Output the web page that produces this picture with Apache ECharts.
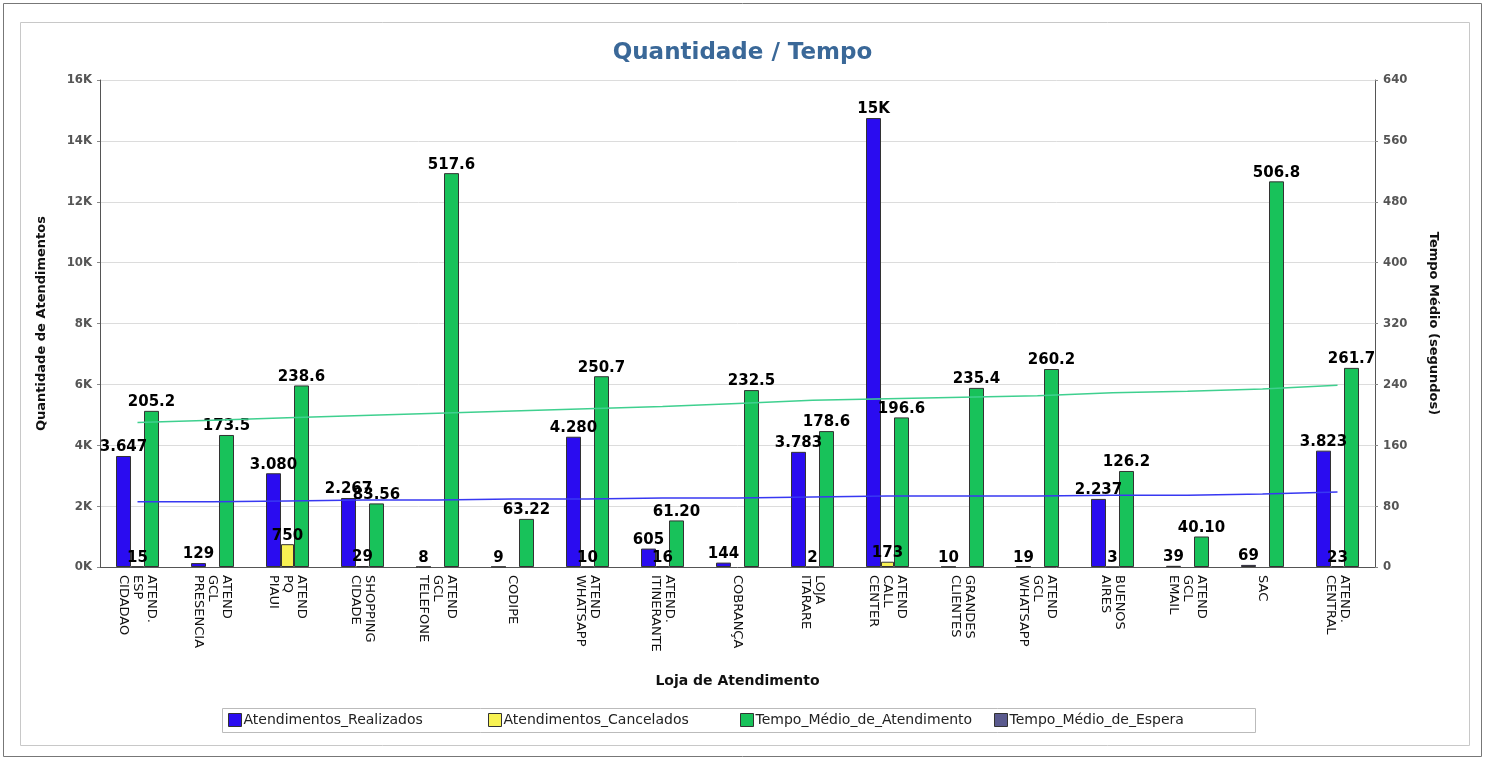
<!DOCTYPE html>
<html>
<head>
<meta charset="utf-8" />
<title>Quantidade / Tempo</title>
<script src="https://cdn.jsdelivr.net/npm/echarts@6/dist/echarts.min.js"></script>
<style>
  html, body { margin: 0; padding: 0; background: #fff; }
  #chart { width: 1485px; height: 760px; }
</style>
</head>
<body>
<div id="chart"></div>
<script>
// lojas (eixo x)
var lojas = [
  'ATEND.\nESP\nCIDADAO', 'ATEND\nGCL\nPRESENCIA', 'ATEND\nPQ\nPIAUI', 'SHOPPING\nCIDADE',
  'ATEND\nGCL\nTELEFONE', 'CODIPE', 'ATEND\nWHATSAPP', 'ATEND.\nITINERANTE', 'COBRANÇA',
  'LOJA\nITARARE', 'ATEND\nCALL\nCENTER', 'GRANDES\nCLIENTES', 'ATEND\nGCL\nWHATSAPP',
  'BUENOS\nAIRES', 'ATEND\nGCL\nEMAIL', 'SAC', 'ATEND.\nCENTRAL'
];
var realizados = [3647, 129, 3080, 2267, 8, 9, 4280, 605, 144, 3783, 14750, 10, 19, 2237, 39, 69, 3823];
var cancelados = [15, null, 750, 29, null, null, 10, 16, null, 2, 173, null, null, 3, null, null, 23];
var tempoAtend = [205.2, 173.5, 238.6, 83.56, 517.6, 63.22, 250.7, 61.20, 232.5, 178.6, 196.6, 235.4, 260.2, 126.2, 40.10, 506.8, 261.7];
var tempoEspera = [];
// linhas de tendencia
var tendQtd = [2140, 2140, 2170, 2200, 2200, 2230, 2230, 2270, 2270, 2300, 2330, 2330, 2330, 2360, 2360, 2400, 2460];
var tendTempo = [190, 193, 196, 199, 202, 205, 208, 211, 215, 219, 221, 223, 225, 229, 231, 234, 239];
var legendas = ['Atendimentos_Realizados', 'Atendimentos_Cancelados', 'Tempo_Médio_de_Atendimento', 'Tempo_Médio_de_Espera'];
var legendaX = [228, 488, 740, 994];

function fmtQtd(v) {
  if (v >= 10000) return Math.round(v / 1000) + 'K';
  return String(v).replace(/\B(?=(\d{3})+(?!\d))/g, '.');
}

var lbl = { show: true, position: 'top', distance: 1, color: '#000', fontWeight: 'bold',
  fontSize: 15, fontFamily: 'DejaVu Sans' };
var borda = { borderColor: '#333', borderWidth: 1 };

var chart = echarts.init(document.getElementById('chart'));
var option = {
  backgroundColor: '#fff',
  animation: false,
  graphic: [
    { type: 'rect', shape: { x: 3.5, y: 3.5, width: 1478, height: 753 }, style: { fill: 'none', stroke: '#777', lineWidth: 1 } },
    { type: 'rect', shape: { x: 20.5, y: 22.5, width: 1449, height: 723 }, style: { fill: 'none', stroke: '#c8c8c8', lineWidth: 1 } },
    { type: 'rect', shape: { x: 222.5, y: 708.5, width: 1033, height: 24 }, style: { fill: 'none', stroke: '#bbb', lineWidth: 1 } }
  ],
  title: {
    text: 'Quantidade / Tempo',
    left: 'center', top: 37,
    textStyle: { color: '#3a6898', fontSize: 23, fontWeight: 'bold', fontFamily: 'DejaVu Sans' }
  },
  legend: legendas.map(function (n, i) {
    return {
      left: legendaX[i], top: 713, data: [n],
      icon: 'rect', itemWidth: 13, itemHeight: 13, itemGap: 0,
      itemStyle: { borderColor: '#333', borderWidth: 1 },
      padding: 0,
      textStyle: { color: '#222', fontSize: 14, fontFamily: 'DejaVu Sans', padding: [0, 0, 0, -3] }
    };
  }),
  grid: { left: 100, right: 110, top: 80, bottom: 193 },
  xAxis: {
    type: 'category', data: lojas,
    name: 'Loja de Atendimento', nameLocation: 'middle', nameGap: 107,
    nameTextStyle: { fontWeight: 'bold', fontSize: 14, color: '#111', fontFamily: 'DejaVu Sans' },
    axisLine: { lineStyle: { color: '#555' } },
    axisTick: { show: false },
    axisLabel: { rotate: -90, interval: 0, color: '#111', fontSize: 13, lineHeight: 14,
      fontFamily: 'DejaVu Sans', margin: 8 }
  },
  yAxis: [
    {
      type: 'value', min: 0, max: 16000, interval: 2000,
      name: 'Quantidade de Atendimentos', nameLocation: 'middle', nameGap: 52,
      nameTextStyle: { fontWeight: 'bold', fontSize: 13, color: '#111', fontFamily: 'DejaVu Sans' },
      axisLine: { show: true, lineStyle: { color: '#555' } },
      axisTick: { show: true, length: 3, lineStyle: { color: '#888' } },
      axisLabel: { color: '#555', fontSize: 13, fontWeight: 'bold', fontFamily: 'DejaVu Sans Condensed, DejaVu Sans',
        formatter: function (v) { return (v / 1000) + 'K'; } },
      splitLine: { lineStyle: { color: '#dcdcdc' } }
    },
    {
      type: 'value', min: 0, max: 640, interval: 80, position: 'right',
      name: 'Tempo Médio (segundos)', nameLocation: 'middle', nameGap: 52, nameRotate: -90,
      nameTextStyle: { fontWeight: 'bold', fontSize: 13, color: '#111', fontFamily: 'DejaVu Sans' },
      axisLine: { show: true, lineStyle: { color: '#555' } },
      axisTick: { show: true, length: 3, lineStyle: { color: '#888' } },
      axisLabel: { color: '#555', fontSize: 13, fontWeight: 'bold', fontFamily: 'DejaVu Sans Condensed, DejaVu Sans' },
      splitLine: { show: false }
    }
  ],
  series: [
    {
      name: 'Atendimentos_Realizados', type: 'bar', yAxisIndex: 0, data: realizados,
      barWidth: 15, barGap: '0%',
      itemStyle: Object.assign({ color: '#2a0cf0' }, borda),
      label: Object.assign({ formatter: function (p) { return fmtQtd(p.value); } }, lbl)
    },
    {
      name: 'Atendimentos_Cancelados', type: 'bar', yAxisIndex: 0, data: cancelados,
      barWidth: 13, barGap: '0%',
      itemStyle: Object.assign({ color: '#f8f252' }, borda),
      label: Object.assign({ formatter: function (p) { return fmtQtd(p.value); } }, lbl)
    },
    {
      name: 'Tempo_Médio_de_Atendimento', type: 'bar', yAxisIndex: 1, data: tempoAtend,
      barWidth: 15, barGap: '0%',
      itemStyle: Object.assign({ color: '#18c25a' }, borda),
      label: Object.assign({ formatter: function (p) { return p.value.toPrecision(4); } }, lbl)
    },
    {
      name: 'Tempo_Médio_de_Espera', type: 'line', yAxisIndex: 1, data: tempoEspera,
      itemStyle: { color: '#5a5a8e' }, showSymbol: false
    },
    {
      name: 'tend_qtd', type: 'line', yAxisIndex: 0, data: tendQtd,
      showSymbol: false, silent: true, z: 5,
      lineStyle: { color: '#3838f2', width: 1.5 }
    },
    {
      name: 'tend_tempo', type: 'line', yAxisIndex: 1, data: tendTempo,
      showSymbol: false, silent: true, z: 5,
      lineStyle: { color: '#3fd08f', width: 1.5 }
    }
  ]
};
chart.setOption(option);
</script>
</body>
</html>
